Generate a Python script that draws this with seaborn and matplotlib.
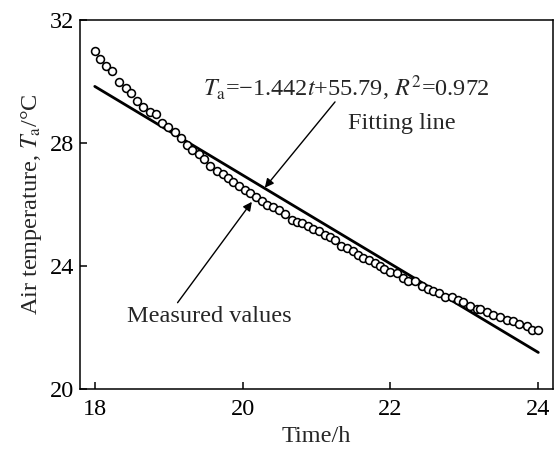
import matplotlib
matplotlib.use("Agg")
import matplotlib.pyplot as plt
import seaborn as sns
import numpy as np
import pandas as pd

# Measured values (time in h, air temperature in °C)
time_h = [18.000, 18.077, 18.158, 18.234, 18.329, 18.416, 18.487, 18.573, 18.654, 18.744,
          18.826, 18.907, 18.992, 19.083, 19.173, 19.245, 19.322, 19.408, 19.475, 19.557,
          19.647, 19.728, 19.804, 19.872, 19.953, 20.030, 20.098, 20.179, 20.256, 20.332,
          20.413, 20.494, 20.572, 20.662, 20.730, 20.806, 20.887, 20.955, 21.036, 21.113,
          21.181, 21.248, 21.326, 21.407, 21.488, 21.564, 21.632, 21.713, 21.790, 21.857,
          21.918, 21.993, 22.084, 22.173, 22.241, 22.331, 22.422, 22.511, 22.579, 22.660,
          22.737, 22.828, 22.917, 22.985, 23.076, 23.166, 23.211, 23.302, 23.391, 23.482,
          23.572, 23.662, 23.739, 23.843, 23.911, 24.000]
temp_c = [31.00, 30.73, 30.51, 30.32, 29.97, 29.78, 29.62, 29.37, 29.18, 29.00,
          28.94, 28.64, 28.51, 28.35, 28.14, 27.93, 27.75, 27.63, 27.47, 27.23,
          27.07, 26.98, 26.85, 26.74, 26.60, 26.47, 26.38, 26.25, 26.11, 25.98,
          25.91, 25.82, 25.70, 25.50, 25.42, 25.39, 25.28, 25.19, 25.12, 25.01,
          24.93, 24.85, 24.63, 24.58, 24.49, 24.36, 24.25, 24.20, 24.09, 24.00,
          23.90, 23.81, 23.76, 23.60, 23.49, 23.49, 23.35, 23.24, 23.19, 23.11,
          23.00, 23.00, 22.89, 22.81, 22.70, 22.59, 22.59, 22.51, 22.41, 22.33,
          22.24, 22.19, 22.10, 22.05, 21.92, 21.92]

# Fitted line: Ta = -1.442 t + 55.79
fit_slope = -1.442
fit_intercept = 55.79
fit_t = [18.0, 24.0]

x_ticks = [18, 20, 22, 24]
y_ticks = [20, 24, 28, 32]

sns.set_theme(style="ticks")
plt.rcParams['font.family'] = ['Liberation Serif', 'DejaVu Serif']
plt.rcParams['mathtext.fontset'] = 'stix'

FS = 17.5

fig = plt.figure(figsize=(5.57, 4.5), dpi=100)
ax = fig.add_axes([0.1436, 0.136, 0.993 - 0.1436, 0.956 - 0.136])

meas = pd.DataFrame({"t": time_h, "T": temp_c})
fit = pd.DataFrame({"t": fit_t, "T": [fit_slope * t + fit_intercept for t in fit_t]})

sns.lineplot(data=fit, x="t", y="T", ax=ax, color="black", linewidth=2.0)
sns.scatterplot(data=meas, x="t", y="T", ax=ax, marker="o", s=32,
                facecolor="white", edgecolor="black", linewidth=1.15, zorder=3)

ax.set_xlim(17.8, 24.2)
ax.set_ylim(20, 32)
ax.set_xticks(x_ticks)
ax.set_yticks(y_ticks)
ax.tick_params(direction="in", length=5, width=1.1, labelsize=FS, colors="black",
               top=False, right=False)
ax.tick_params(axis="x", pad=7)
ax.tick_params(axis="y", pad=4)
for s in ax.spines.values():
    s.set_visible(True)
    s.set_linewidth(1.1)
    s.set_color("black")

ax.set_xlabel("Time/h", fontsize=FS, labelpad=5)
ax.set_ylabel(r"Air temperature, $T_{\mathrm{a}}$/°C", fontsize=FS, labelpad=4)

ax.text(21.40, 29.76, r"$T_{\mathrm{a}}$=−1.442$t$+55.79, $R^2$=0.972",
        fontsize=FS, ha="center", va="center")
ax.text(22.155, 28.62, "Fitting line", fontsize=FS, ha="center", va="center")
ax.text(19.556, 22.34, "Measured values", fontsize=FS, ha="center", va="center")

ax.annotate("", xy=(20.30, 26.54), xytext=(21.25, 29.33),
            arrowprops=dict(arrowstyle="-|>", color="black", lw=1.0,
                            mutation_scale=13, shrinkA=0, shrinkB=0))
ax.annotate("", xy=(20.125, 26.08), xytext=(19.12, 22.80),
            arrowprops=dict(arrowstyle="-|>", color="black", lw=1.0,
                            mutation_scale=13, shrinkA=0, shrinkB=0))

fig.savefig("out.png", dpi=100, facecolor="white")
